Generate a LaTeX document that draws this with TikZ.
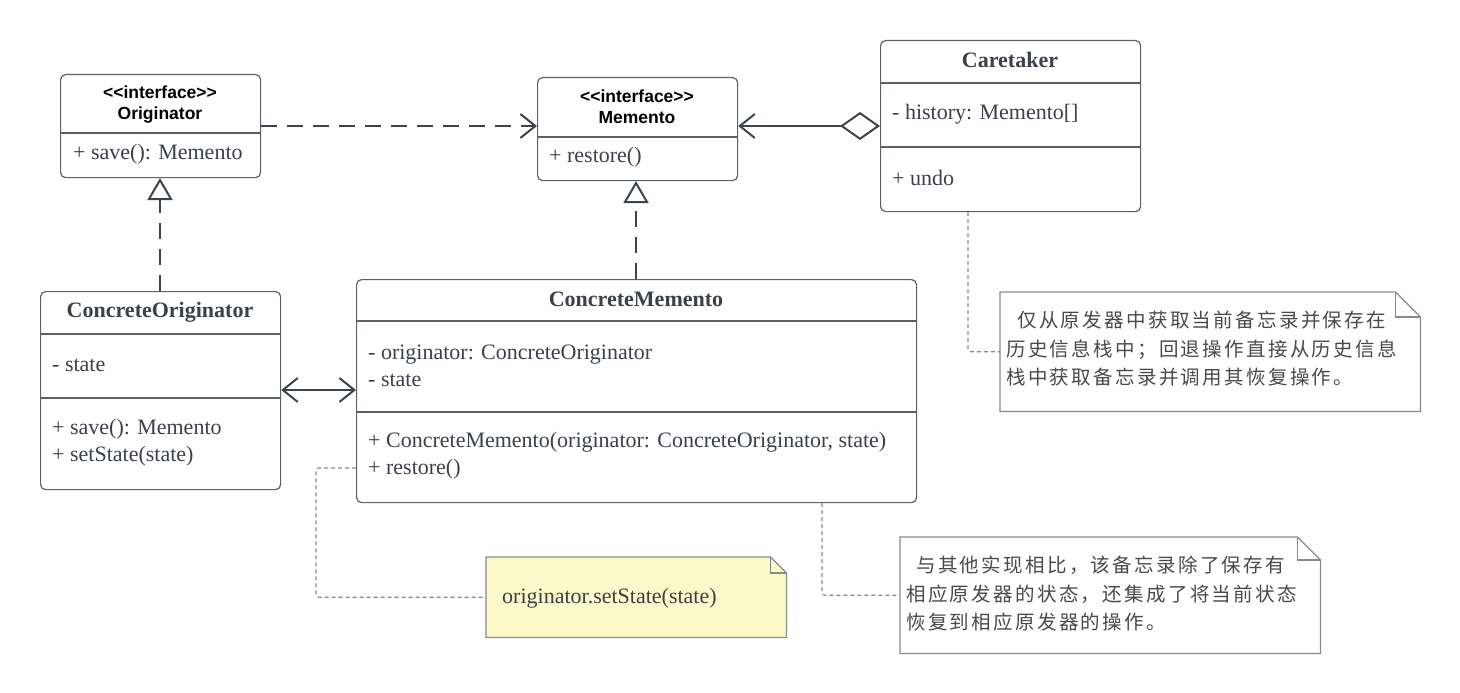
\documentclass[tikz,border=0pt]{standalone}
\usepackage{fontspec}
\setmainfont{Liberation Serif}
\setsansfont{Liberation Sans}
\newfontfamily\cjk{Noto Sans CJK SC}[LetterSpace=12]
\usetikzlibrary{arrows.meta}
\definecolor{txt}{HTML}{3C4149}
\definecolor{boxc}{HTML}{5C6168}
\definecolor{arr}{HTML}{3E444C}
\definecolor{notec}{HTML}{8A8A8A}
\definecolor{cjktxt}{HTML}{4A4A4A}
\definecolor{yel}{HTML}{FBF9C9}
\tikzset{
  mybarb/.tip={Straight Barb[length=15pt, width=24pt, line width=2pt]},
  myreal/.tip={Triangle[open, length=22pt, width=25pt, line width=2pt, fill=white]},
  mydiam/.tip={Diamond[open, length=40pt, width=28pt, line width=2pt, fill=white]},
  cls/.style={draw=boxc, line width=1.2pt, rounded corners=5pt, inner sep=0pt, anchor=north west, fill=white},
  div/.style={draw=boxc, line width=1.2pt},
  mem/.style={anchor=west, inner sep=0pt, text=txt, font=\fontsize{22}{27}\selectfont},
  ttl/.style={inner sep=0pt, text=txt, font=\bfseries\fontsize{22}{27}\selectfont},
  ifc/.style={inner sep=0pt, text=black, align=center, font=\sffamily\bfseries\fontsize{17.5}{21}\selectfont},
  notebox/.style={inner sep=0pt, anchor=north west},
  noteline/.style={draw=notec, line width=1.2pt},
  conn/.style={draw=notec, line width=1.2pt, dash pattern=on 4pt off 3pt, rounded corners=3pt},
  rel/.style={draw=arr, line width=2pt},
  dsh/.style={rel, dash pattern=on 16pt off 10pt},
  cjkt/.style={anchor=west, inner sep=0pt, align=left, text=cjktxt, font=\cjk\fontsize{19.5}{28.5}\selectfont},
}
\begin{document}
\begin{tikzpicture}[x=1pt, y=-1pt]
\useasboundingbox (0,0) rectangle (1460,693);
% ---------- Originator ----------
\node[cls, minimum width=200pt, minimum height=103pt] (orig) at (60,74) {};
\draw[div] (60,133) -- (260,133);
\node[ifc] (origT) at (160,104.5) {{<}{<}interface{>}{>}\\Originator};
\node[mem] (origM) at (73,154) {+ save(): Memento};
% ---------- Memento ----------
\node[cls, minimum width=200pt, minimum height=103pt] (memo) at (537,77) {};
\draw[div] (537,137) -- (737,137);
\node[ifc] (memoT) at (637,107) {{<}{<}interface{>}{>}\\Memento};
\node[mem] (memoM) at (549,157) {+ restore()};
% ---------- Caretaker ----------
\node[cls, minimum width=260pt, minimum height=171pt] (care) at (880,40) {};
\draw[div] (880,83) -- (1140,83);
\draw[div] (880,147) -- (1140,147);
\node[ttl] (careT) at (1010,60) {Caretaker};
\node[mem] (careA) at (892,114) {- history: Memento[]};
\node[mem] (careM) at (892,178) {+ undo};
% ---------- ConcreteOriginator ----------
\node[cls, minimum width=240pt, minimum height=198pt] (co) at (40,291) {};
\draw[div] (40,334) -- (280,334);
\draw[div] (40,398) -- (280,398);
\node[ttl] (coT) at (160,312) {ConcreteOriginator};
\node[mem] (coA) at (52,365) {- state};
\node[mem, align=left] (coM) at (52,443) {+ save(): Memento\\+ setState(state)};
% ---------- ConcreteMemento ----------
\node[cls, minimum width=560pt, minimum height=223pt] (cm) at (356,279) {};
\draw[div] (356,321) -- (916,321);
\draw[div] (356,412) -- (916,412);
\node[ttl] (cmT) at (636,299) {ConcreteMemento};
\node[mem, align=left] (cmA) at (368,366) {- originator: ConcreteOriginator\\- state};
\node[mem, align=left] (cmM) at (368,456) {+ ConcreteMemento(originator: ConcreteOriginator, state)\\+ restore()};
% ---------- relations ----------
\draw[dsh, -{mybarb}] (orig.east |- 0,126) -- (memo.west |- 0,126);
\draw[rel, {mydiam}-{mybarb}] (care.west |- 0,126) -- (memo.east |- 0,126);
\draw[dsh, -{myreal}] (co.north -| 160,0) -- (160,178);
\draw[dsh, -{myreal}] (cm.north -| 636,0) -- (636,181);
\draw[rel, {mybarb}-{mybarb}] (co.east |- 0,390) -- (cm.west |- 0,390);
% ---------- notes ----------
\node[notebox, minimum width=420pt, minimum height=119pt] (n1) at (1000,292) {};
\draw[noteline, fill=white] (n1.north west) -- ([xshift=-25pt]n1.north east) -- ([yshift=-25pt]n1.north east) -- (n1.south east) -- (n1.south west) -- cycle;
\draw[noteline] ([xshift=-25pt]n1.north east) |- ([yshift=-25pt]n1.north east);
\node[cjkt] (n1t) at (1006,349) {\hspace*{11pt}仅从原发器中获取当前备忘录并保存在\\历史信息栈中；回退操作直接从历史信息\\栈中获取备忘录并调用其恢复操作。};

\node[notebox, minimum width=300pt, minimum height=80pt] (n2) at (486,557) {};
\draw[noteline, fill=yel] (n2.north west) -- ([xshift=-16pt]n2.north east) -- ([yshift=-16pt]n2.north east) -- (n2.south east) -- (n2.south west) -- cycle;
\draw[noteline] ([xshift=-16pt]n2.north east) |- ([yshift=-16pt]n2.north east);
\node[mem] (n2t) at (502,598) {originator.setState(state)};

\node[notebox, minimum width=420pt, minimum height=116pt] (n3) at (900,537) {};
\draw[noteline, fill=white] (n3.north west) -- ([xshift=-23pt]n3.north east) -- ([yshift=-23pt]n3.north east) -- (n3.south east) -- (n3.south west) -- cycle;
\draw[noteline] ([xshift=-23pt]n3.north east) |- ([yshift=-23pt]n3.north east);
\node[cjkt] (n3t) at (906,594) {\hspace*{10pt}与其他实现相比，该备忘录除了保存有\\相应原发器的状态，还集成了将当前状态\\恢复到相应原发器的操作。};
% ---------- note connectors ----------
\draw[conn] ([xshift=88pt]care.south west) |- (n1.west);
\draw[conn] (cm.west |- 0,468) -- (316,468) |- (n2.west);
\draw[conn] ([xshift=466pt]cm.south west) |- (n3.west);
\end{tikzpicture}
\end{document}
